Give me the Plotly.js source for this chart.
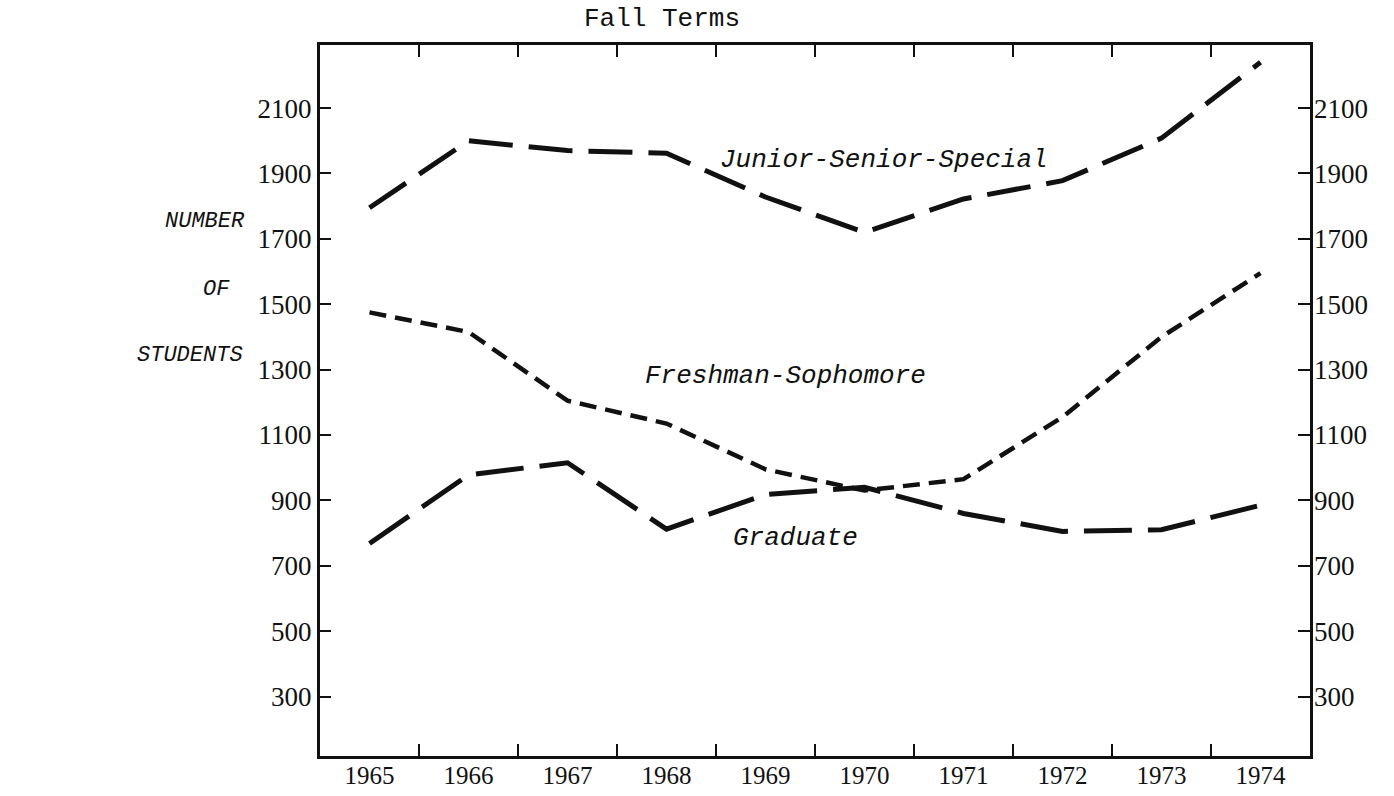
<!DOCTYPE html>
<html>
<head>
<meta charset="utf-8">
<script src="https://cdn.plot.ly/plotly-3.0.1.min.js"></script>
<style>
  html, body { margin: 0; padding: 0; background: #ffffff; }
  #chart { width: 1394px; height: 796px; }
</style>
</head>
<body>
<div id="chart"></div>
<script>
// ---- data ----
var years = [1965, 1966, 1967, 1968, 1969, 1970, 1971, 1972, 1973, 1974];
var yearLabels = ['1965', '1966', '1967', '1968', '1969', '1970', '1971', '1972', '1973', '1974'];
var juniorSeniorSpecial = [1795, 2000, 1970, 1962, 1828, 1720, 1822, 1878, 2008, 2240];
var freshmanSophomore = [1475, 1415, 1205, 1135, 995, 930, 965, 1155, 1400, 1595];
var graduate = [768, 978, 1015, 812, 918, 940, 860, 805, 810, 885];
var intervalTicks = [1965.5, 1966.5, 1967.5, 1968.5, 1969.5, 1970.5, 1971.5, 1972.5, 1973.5];
var yTickVals = [300, 500, 700, 900, 1100, 1300, 1500, 1700, 1900, 2100];
var yTickText = ['300', '500', '700', '900', '1100', '1300', '1500', '1700', '1900', '2100'];
var seriesNames = ['Junior-Senior-Special', 'Freshman-Sophomore', 'Graduate'];
var titleText = 'Fall Terms';
var sideLabel = ['NUMBER', 'OF', 'STUDENTS'];

// ---- styling ----
var ink = '#111111';
var numFont = {family: 'Liberation Serif, serif', size: 27, color: ink};
var xNumFont = {family: 'Liberation Serif, serif', size: 25, color: ink};
var monoItalic = 'Liberation Mono, monospace';
var xRange = [1964.5, 1974.5];
var yRange = [118, 2293];

var traces = [
  {
    x: years, y: juniorSeniorSpecial, name: seriesNames[0],
    type: 'scatter', mode: 'lines', xaxis: 'x', yaxis: 'y',
    line: {color: ink, width: 5, dash: '44px,16px'},
    showlegend: false, hoverinfo: 'skip'
  },
  {
    x: years, y: freshmanSophomore, name: seriesNames[1],
    type: 'scatter', mode: 'lines', xaxis: 'x', yaxis: 'y',
    line: {color: ink, width: 4.5, dash: '17px,9px'},
    showlegend: false, hoverinfo: 'skip'
  },
  {
    x: years, y: graduate, name: seriesNames[2],
    type: 'scatter', mode: 'lines', xaxis: 'x2', yaxis: 'y2',
    line: {color: ink, width: 5, dash: '48px,16px'},
    showlegend: false, hoverinfo: 'skip'
  }
];

var layout = {
  width: 1394, height: 796,
  paper_bgcolor: '#ffffff', plot_bgcolor: '#ffffff',
  margin: {l: 320, r: 84, t: 45, b: 40, pad: 0},
  showlegend: false,
  title: {
    text: titleText,
    font: {family: 'Liberation Mono, monospace', size: 26, color: ink},
    x: 662 / 1394, xanchor: 'center', xref: 'container',
    y: 1 - 17 / 796, yanchor: 'middle', yref: 'container'
  },
  xaxis: {
    range: xRange, tickmode: 'array', tickvals: intervalTicks,
    ticks: 'inside', ticklen: 12, tickwidth: 2, tickcolor: ink,
    showticklabels: false, showgrid: false, zeroline: false,
    showline: true, linewidth: 3, linecolor: ink, mirror: 'ticks',
    fixedrange: true
  },
  xaxis2: {
    overlaying: 'x', anchor: 'y2', side: 'bottom',
    range: xRange, tickmode: 'array', tickvals: years, ticktext: yearLabels,
    ticks: '', showgrid: false, zeroline: false, showline: false,
    tickfont: xNumFont, ticklabelstandoff: 2, fixedrange: true
  },
  yaxis: {
    range: yRange, tickmode: 'array', tickvals: yTickVals, ticktext: yTickText,
    ticks: 'inside', ticklen: 11, tickwidth: 2, tickcolor: ink,
    showgrid: false, zeroline: false,
    showline: true, linewidth: 3, linecolor: ink, mirror: true,
    tickfont: numFont, ticklabelstandoff: 0, fixedrange: true
  },
  yaxis2: {
    overlaying: 'y', anchor: 'x2', side: 'right',
    range: yRange, tickmode: 'array', tickvals: yTickVals, ticktext: yTickText,
    ticks: 'inside', ticklen: 12, tickwidth: 2, tickcolor: ink,
    showgrid: false, zeroline: false, showline: false,
    tickfont: numFont, ticklabelstandoff: 3, fixedrange: true
  },
  annotations: [
    {text: seriesNames[0], xref: 'x', yref: 'y', x: 1970.2, y: 1940,
     showarrow: false, xanchor: 'center', yanchor: 'middle',
     font: {family: monoItalic, size: 26, color: ink, style: 'italic'}},
    {text: seriesNames[1], xref: 'x', yref: 'y', x: 1969.2, y: 1281,
     showarrow: false, xanchor: 'center', yanchor: 'middle',
     font: {family: monoItalic, size: 26, color: ink, style: 'italic'}},
    {text: seriesNames[2], xref: 'x', yref: 'y', x: 1969.3, y: 784,
     showarrow: false, xanchor: 'center', yanchor: 'middle',
     font: {family: monoItalic, size: 26, color: ink, style: 'italic'}},
    {text: sideLabel[0], xref: 'paper', yref: 'paper', x: (205 - 320) / 990, y: (756 - 222) / 711,
     showarrow: false, xanchor: 'center', yanchor: 'middle',
     font: {family: monoItalic, size: 22, color: ink, style: 'italic'}},
    {text: sideLabel[1], xref: 'paper', yref: 'paper', x: (216 - 320) / 990, y: (756 - 289) / 711,
     showarrow: false, xanchor: 'center', yanchor: 'middle',
     font: {family: monoItalic, size: 22, color: ink, style: 'italic'}},
    {text: sideLabel[2], xref: 'paper', yref: 'paper', x: (190 - 320) / 990, y: (756 - 355) / 711,
     showarrow: false, xanchor: 'center', yanchor: 'middle',
     font: {family: monoItalic, size: 22, color: ink, style: 'italic'}}
  ]
};

Plotly.newPlot('chart', traces, layout, {staticPlot: true, displayModeBar: false});
</script>
</body>
</html>
